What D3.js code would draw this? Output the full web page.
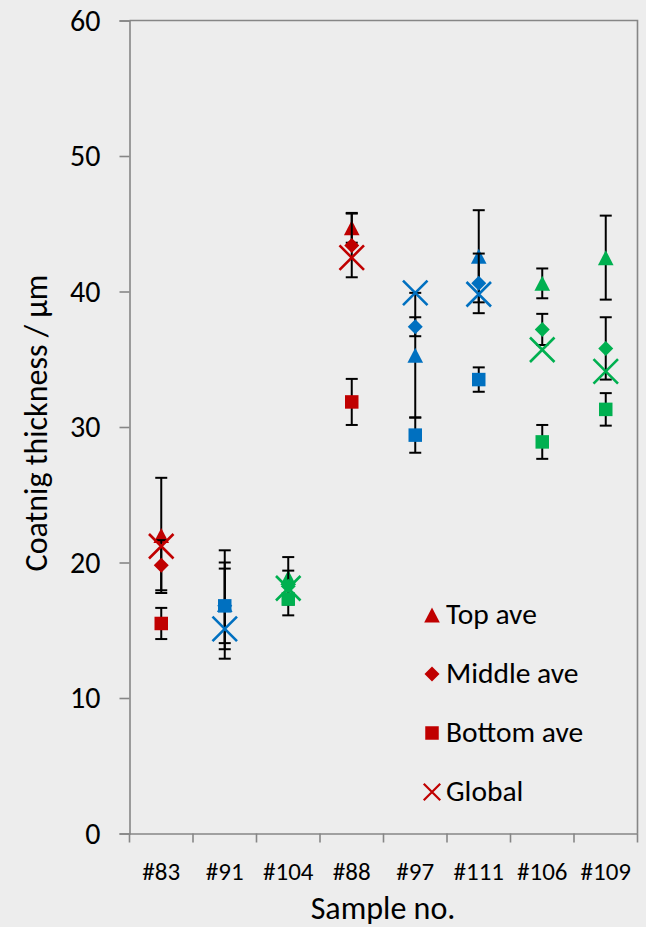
<!DOCTYPE html>
<html>
<head>
<meta charset="utf-8">
<script src="https://cdn.jsdelivr.net/npm/d3@7"></script>
<style>
  html, body { margin: 0; padding: 0; background: #ededed; }
  svg { display: block; }
  text { font-family: Carlito, Calibri, Lato, sans-serif; fill: #000; }
</style>
</head>
<body>
<svg id="chart" width="646" height="927"></svg>
<script>
// Samples along the x axis, and the coating group each belongs to
const categories = ["#83", "#91", "#104", "#88", "#97", "#111", "#106", "#109"];
const coatingGroup = ["A", "B", "C", "A", "B", "B", "C", "C"];

// Average thickness (µm) at each measuring height, with ± error
const topAve      = [22.0, 16.9, 18.9, 44.7, 35.3, 42.6, 40.6, 42.5];
const topErr      = [4.25, 4.0, 0.5, 1.1, 4.6, 3.4, 1.1, 3.1];
const middleAve   = [19.8, 16.8, 18.25, 43.4, 37.4, 40.6, 37.2, 35.8];
const middleErr   = [1.85, 3.2, 2.15, 2.35, 0.7, 2.2, 1.15, 2.3];
const bottomAve   = [15.5, 16.8, 17.3, 31.85, 29.4, 33.5, 28.9, 31.3];
const bottomErr   = [1.15, 2.75, 0.4, 1.7, 1.3, 0.9, 1.25, 1.2];
const globalAve   = [21.2, 15.1, 18.1, 42.5, 39.9, 39.8, 35.7, 34.1];

const yTicks = [0, 10, 20, 30, 40, 50, 60];
const legendLabels = ["Top ave", "Middle ave", "Bottom ave", "Global"];

(function draw() {
  const svg = d3.select("#chart");
  const W = 646, H = 927;
  const plotLeft = 129.5, plotRight = 637.5, plotTop = 20.5, plotBottom = 833.5;
  const axisGrey = "#868686";

  svg.append("rect").attr("width", W).attr("height", H).attr("fill", "#ededed");

  const x = d3.scaleBand().domain(categories).range([plotLeft, plotRight]).padding(0);
  const y = d3.scaleLinear().domain([0, 60]).range([plotBottom, plotTop]);
  const groupColor = d3.scaleOrdinal().domain(["A", "B", "C"]).range(["#c00000", "#0070c0", "#00b050"]);

  // Frame: top and right edges of the plot area
  svg.append("path")
    .attr("d", `M${plotLeft},${plotTop}H${plotRight}V${plotBottom}`)
    .attr("fill", "none").attr("stroke", axisGrey).attr("stroke-width", 1.6);

  // Y axis
  const yAxis = svg.append("g")
    .attr("transform", `translate(${plotLeft},0)`)
    .call(d3.axisLeft(y).tickValues(yTicks).tickSize(10).tickPadding(19));
  yAxis.select(".domain").attr("stroke", axisGrey).attr("stroke-width", 1.6);
  yAxis.selectAll(".tick line").attr("stroke", axisGrey).attr("stroke-width", 1.6);
  yAxis.selectAll(".tick text").attr("font-size", 30).attr("font-family", null);

  // X axis: tick marks at the boundaries between samples, labels centred on each
  const xAxis = svg.append("g")
    .attr("transform", `translate(0,${plotBottom})`)
    .call(d3.axisBottom(x).tickSize(0).tickPadding(0));
  xAxis.select(".domain").attr("stroke", axisGrey).attr("stroke-width", 1.6);
  xAxis.selectAll(".tick text")
    .attr("font-size", 25).attr("font-family", null)
    .attr("y", 46).attr("dy", null);
  const boundaries = categories.map(c => x(c)).concat([x.range()[1]]);
  xAxis.selectAll("line.boundary")
    .data(boundaries).enter().append("line")
    .attr("class", "boundary")
    .attr("x1", d => d).attr("x2", d => d)
    .attr("y1", 0).attr("y2", 9)
    .attr("stroke", axisGrey).attr("stroke-width", 1.6);

  // Axis titles
  svg.append("text")
    .attr("x", 383).attr("y", 919)
    .attr("text-anchor", "middle").attr("font-size", 32)
    .text("Sample no.");
  svg.append("text")
    .attr("transform", `translate(47,${(plotTop + plotBottom) / 2 - 4}) rotate(-90)`)
    .attr("text-anchor", "middle").attr("font-size", 32)
    .text("Coatnig thickness / µm");

  // Marker shapes, centred on the origin
  const markerPath = {
    triangle: s => `M0,${-s * 0.5}L${s * 0.52},${s * 0.5}L${-s * 0.52},${s * 0.5}Z`,
    diamond: s => `M0,${-s / 2}L${s / 2},0L0,${s / 2}L${-s / 2},0Z`,
    square: s => `M${-s / 2},${-s / 2}h${s}v${s}h${-s}Z`,
    cross: s => `M${-s / 2},${-s / 2}L${s / 2},${s / 2}M${s / 2},${-s / 2}L${-s / 2},${s / 2}`
  };

  const series = [
    { name: legendLabels[0], values: topAve, errors: topErr, shape: "triangle", size: 15 },
    { name: legendLabels[1], values: middleAve, errors: middleErr, shape: "diamond", size: 15 },
    { name: legendLabels[2], values: bottomAve, errors: bottomErr, shape: "square", size: 13.5 },
    { name: legendLabels[3], values: globalAve, errors: null, shape: "cross", size: 24.5 }
  ];

  const cx = i => x(categories[i]) + x.bandwidth() / 2;
  const plot = svg.append("g");

  series.forEach(s => {
    const g = plot.append("g");
    const rows = s.values.map((v, i) => ({ v, i, e: s.errors ? s.errors[i] : null }));

    if (s.errors) {
      const eb = g.selectAll("g.err").data(rows).enter().append("g").attr("class", "err")
        .attr("stroke", "#000").attr("stroke-width", 2);
      eb.append("line")
        .attr("x1", d => cx(d.i)).attr("x2", d => cx(d.i))
        .attr("y1", d => y(d.v + d.e)).attr("y2", d => y(d.v - d.e));
      eb.append("line")
        .attr("x1", d => cx(d.i) - 6).attr("x2", d => cx(d.i) + 6)
        .attr("y1", d => y(d.v + d.e)).attr("y2", d => y(d.v + d.e));
      eb.append("line")
        .attr("x1", d => cx(d.i) - 6).attr("x2", d => cx(d.i) + 6)
        .attr("y1", d => y(d.v - d.e)).attr("y2", d => y(d.v - d.e));
    }

    const m = g.selectAll("path.mark").data(rows).enter().append("path").attr("class", "mark")
      .attr("transform", d => `translate(${cx(d.i)},${y(d.v)})`)
      .attr("d", markerPath[s.shape](s.size));
    if (s.shape === "cross") {
      m.attr("fill", "none").attr("stroke", d => groupColor(coatingGroup[d.i])).attr("stroke-width", 2.6);
    } else {
      m.attr("fill", d => groupColor(coatingGroup[d.i]));
    }
  });

  // Legend
  const legendTop = 615, legendStep = 59;
  const legend = svg.append("g").attr("transform", `translate(432,${legendTop})`);
  const legendSizes = { triangle: 15, diamond: 15, square: 13.5, cross: 16.5 };
  series.forEach((s, k) => {
    const row = legend.append("g").attr("transform", `translate(0,${k * legendStep})`);
    const p = row.append("path").attr("d", markerPath[s.shape](legendSizes[s.shape]));
    if (s.shape === "cross") {
      p.attr("fill", "none").attr("stroke", "#c00000").attr("stroke-width", 2.2);
    } else {
      p.attr("fill", "#c00000");
    }
    row.append("text").attr("x", 14).attr("y", 9)
      .attr("font-size", 29.5).text(s.name);
  });
})();
</script>
</body>
</html>
